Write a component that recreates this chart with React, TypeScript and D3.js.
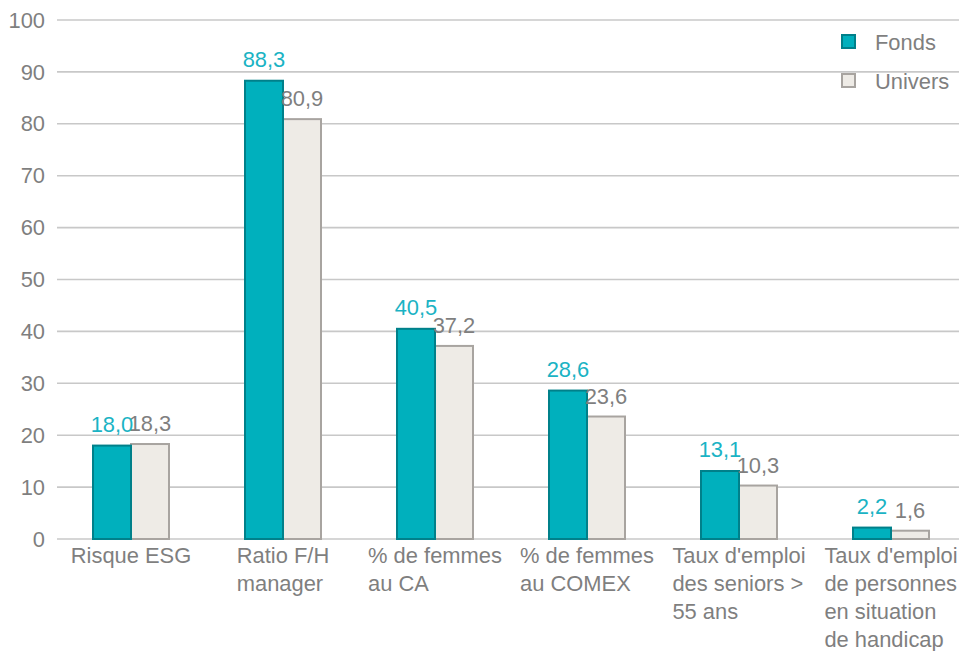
import React from "react";
import * as d3 from "d3";

const categories: string[][] = [
  ["Risque ESG"],
  ["Ratio F/H", "manager"],
  ["% de femmes", "au CA"],
  ["% de femmes", "au COMEX"],
  ["Taux d'emploi", "des seniors >", "55 ans"],
  ["Taux d'emploi", "de personnes", "en situation", "de handicap"],
];
const fonds = [18.0, 88.3, 40.5, 28.6, 13.1, 2.2];
const univers = [18.3, 80.9, 37.2, 23.6, 10.3, 1.6];
const yTicks = [0, 10, 20, 30, 40, 50, 60, 70, 80, 90, 100];
const seriesNames = ["Fonds", "Univers"];

const W = 959;
const H = 651;
const FONT = "'Liberation Sans', Arial, sans-serif";
const FS = 21.9;
const GRAY = "#7f7f7f";
const TEAL = "#00b0bd";
const TEAL_STROKE = "#00808a";
const TEAL_TEXT = "#1ab3c4";
const UNI = "#eeebe6";
const UNI_STROKE = "#a8a4a0";

let ctx: CanvasRenderingContext2D | null = null;
function measure(t: string): number {
  if (!ctx) {
    const c = document.createElement("canvas");
    ctx = c.getContext("2d");
  }
  if (!ctx) return t.length * FS * 0.5;
  ctx.font = `${FS}px 'Liberation Sans'`;
  return ctx.measureText(t).width;
}

const fmt = (v: number) => v.toFixed(1).replace(".", ",");

export default function App() {
  const x = d3
    .scaleBand<number>()
    .domain(d3.range(categories.length))
    .range([55, 55 + 152 * categories.length])
    .paddingInner(0)
    .paddingOuter(0);
  const inner = d3
    .scaleBand<number>()
    .domain([0, 1])
    .range([38, 114]);
  const y = d3.scaleLinear().domain([0, 100]).range([539, 20]);
  const gridX0 = 57;

  return (
    <svg
      width={W}
      height={H}
      style={{ position: "absolute", left: 0, top: 0, background: "#fff" }}
      fontFamily={FONT}
    >
      {yTicks.map((t) => (
        <g key={t}>
          <line x1={gridX0} x2={W} y1={y(t)} y2={y(t)} stroke="#c8c8c8" strokeWidth={1.6} />
          <text x={45} y={y(t)} dy="0.35em" textAnchor="end" fontSize={FS} fill={GRAY}>
            {t}
          </text>
        </g>
      ))}
      {categories.map((_, i) => {
        const bx0 = (x(i) as number) + (inner(0) as number);
        const bx1 = (x(i) as number) + (inner(1) as number);
        const bw = inner.bandwidth();
        return (
          <g key={i}>
            <rect x={bx1} y={y(univers[i])} width={bw} height={y(0) - y(univers[i])} fill={UNI} stroke={UNI_STROKE} strokeWidth={2} />
            <rect x={bx0} y={y(fonds[i])} width={bw} height={y(0) - y(fonds[i])} fill={TEAL} stroke={TEAL_STROKE} strokeWidth={2} />
            <text x={bx1 + bw / 2} y={y(univers[i]) - 13} textAnchor="middle" fontSize={FS} fill={GRAY}>
              {fmt(univers[i])}
            </text>
            <text x={bx0 + bw / 2} y={y(fonds[i]) - 14} textAnchor="middle" fontSize={FS} fill={TEAL_TEXT}>
              {fmt(fonds[i])}
            </text>
          </g>
        );
      })}
      {categories.map((lines, i) => {
        const cx = (x(i) as number) + x.bandwidth() / 2;
        const bw = Math.max(...lines.map(measure));
        const sx = cx - bw / 2;
        return (
          <text key={i} fontSize={FS} fill={GRAY}>
            {lines.map((l, j) => (
              <tspan key={j} x={sx} y={563 + j * 28}>
                {l}
              </tspan>
            ))}
          </text>
        );
      })}
      {seriesNames.map((n, i) => (
        <g key={n}>
          <rect
            x={842}
            y={35 + i * 39}
            width={13}
            height={13}
            fill={i === 0 ? TEAL : UNI}
            stroke={i === 0 ? TEAL_STROKE : UNI_STROKE}
            strokeWidth={2}
          />
          <text x={875} y={50 + i * 39} fontSize={FS} fill={GRAY}>
            {n}
          </text>
        </g>
      ))}
    </svg>
  );
}
